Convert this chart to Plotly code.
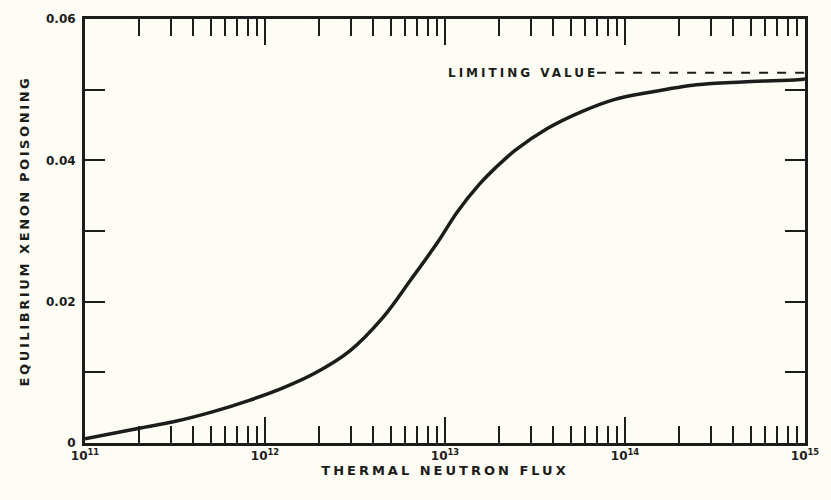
import math
import plotly.graph_objects as go

# Data
flux = [1.0e11, 2.0e11, 3.1e11, 5.1e11, 8.1e11, 1.26e12, 1.9e12, 2.95e12,
        4.5e12, 6.5e12, 9.1e12, 1.17e13, 1.55e13, 1.9e13, 2.45e13, 3.7e13,
        5.75e13, 8.7e13, 1.35e14, 2.5e14, 4.5e14, 9.1e14, 1.0e15]
poisoning = [0.0006, 0.0021, 0.0030, 0.0044, 0.0060, 0.0078, 0.0099, 0.0130,
             0.0177, 0.0232, 0.0284, 0.0327, 0.0366, 0.0389, 0.0414, 0.0445,
             0.0469, 0.0486, 0.0496, 0.0507, 0.0511, 0.0514, 0.0515]
limiting_value = 0.0524
limit_x = [7.0e13, 1.0e15]
limit_label = "LIMITING VALUE"
limit_label_x = 2.72e13

x_tickvals = [1e11, 1e12, 1e13, 1e14, 1e15]
x_ticktext = ["10<sup>11</sup>", "10<sup>12</sup>", "10<sup>13</sup>", "10<sup>14</sup>", "10<sup>15</sup>"]
y_tickvals = [0, 0.02, 0.04, 0.06]
y_ticktext = ["0", "0.02", "0.04", "0.06"]

ink = "#1c1c1a"
paper = "#fdfcf5"
font_family = "DejaVu Sans, Liberation Sans, sans-serif"

fig = go.Figure()
fig.add_trace(go.Scatter(x=flux, y=poisoning, mode="lines",
                         line=dict(color=ink, width=3.5, shape="spline", smoothing=1.0),
                         showlegend=False, hoverinfo="skip"))
fig.add_trace(go.Scatter(x=limit_x, y=[limiting_value, limiting_value], mode="lines",
                         line=dict(color=ink, width=2, dash="dash"),
                         showlegend=False, hoverinfo="skip"))
fig.add_annotation(x=math.log10(limit_label_x), y=limiting_value, xref="x", yref="y",
                   text=limit_label, showarrow=False, xanchor="center", yanchor="middle",
                   font=dict(family=font_family, size=12, color=ink, weight="bold"))

fig.update_xaxes(type="log", range=[11, 15], tickvals=x_tickvals, ticktext=x_ticktext,
                 ticks="inside", ticklen=26, tickwidth=2, tickcolor=ink,
                 minor=dict(ticks="inside", ticklen=17, tickwidth=2, tickcolor=ink,
                            dtick="D1", showgrid=False),
                 showline=True, linecolor=ink, linewidth=3, mirror="ticks",
                 showgrid=False, zeroline=False,
                 title=dict(text="THERMAL NEUTRON FLUX", standoff=4,
                            font=dict(family=font_family, size=13, color=ink, weight="bold")),
                 tickfont=dict(family=font_family, size=12, color=ink, weight="bold"))
fig.update_yaxes(range=[0, 0.06], tickvals=y_tickvals, ticktext=y_ticktext,
                 ticks="inside", ticklen=20, tickwidth=2, tickcolor=ink,
                 minor=dict(ticks="inside", ticklen=20, tickwidth=2, tickcolor=ink,
                            dtick=0.01, showgrid=False),
                 showline=True, linecolor=ink, linewidth=3, mirror="ticks",
                 showgrid=False, zeroline=False, ticklabelstandoff=4,
                 title=dict(text="EQUILIBRIUM XENON POISONING", standoff=14,
                            font=dict(family=font_family, size=13, color=ink, weight="bold")),
                 tickfont=dict(family=font_family, size=12, color=ink, weight="bold"))

fig.update_layout(width=831, height=500, margin=dict(l=85, r=23, t=17, b=57),
                  paper_bgcolor=paper, plot_bgcolor=paper,
                  font=dict(family=font_family, color=ink))

post = """
document.body.style.margin = '0';
document.body.style.background = '%s';
document.querySelectorAll('.xtitle').forEach(function(e){ e.style.letterSpacing = '3px'; });
document.querySelectorAll('.ytitle').forEach(function(e){ e.style.letterSpacing = '2.6px'; });
document.querySelectorAll('.annotation-text').forEach(function(e){ e.style.letterSpacing = '3px'; });
""" % paper

fig.write_html("out.html", post_script=post, config={"displayModeBar": False})
